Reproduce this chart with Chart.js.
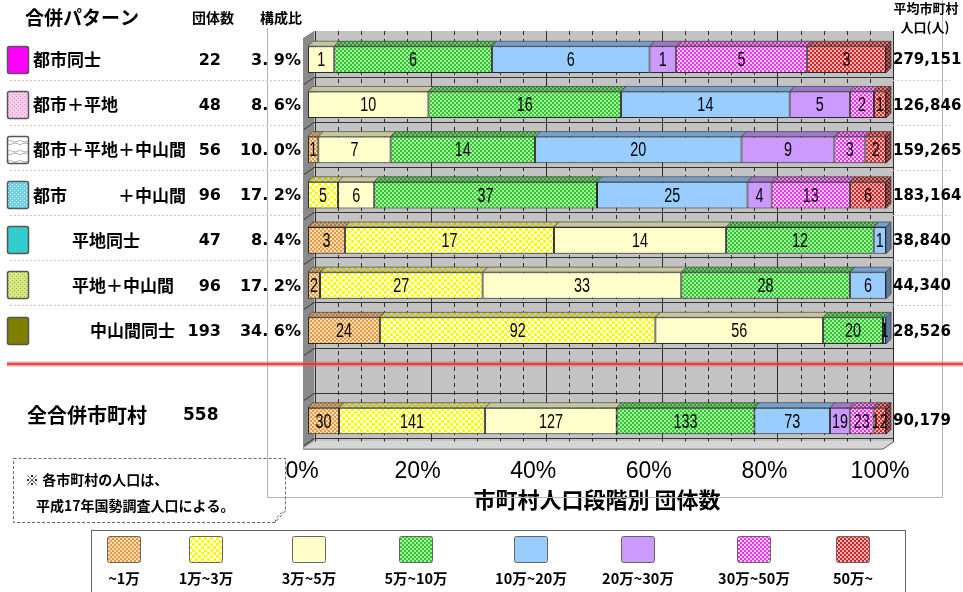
<!DOCTYPE html>
<html>
<head>
<meta charset="utf-8">
<script src="https://cdn.jsdelivr.net/npm/chart.js@4.4.0/dist/chart.umd.min.js"></script>
<style>
  html, body { margin: 0; padding: 0; background: #fff; }
  #wrap { position: relative; width: 963px; height: 592px; }
</style>
</head>
<body>
<div id="wrap"><canvas id="chart" width="963" height="592"></canvas></div>
<script>
// 合併パターン別 市町村人口段階別 団体数

const FONT_JP = '"Noto Sans CJK JP", sans-serif';
const FONT_NUM = '"DejaVu Sans", sans-serif';
const FONT_TICK = '"Liberation Sans", Arial, sans-serif';

// 左側の表
const rowNames   = ['都市同士','都市＋平地','都市＋平地＋中山間','都市　　　＋中山間','平地同士','平地＋中山間','中山間同士'];
const rowCounts  = ['22','48','56','96','47','96','193'];
const rowShares  = ['3. 9%','8. 6%','10. 0%','17. 2%','8. 4%','17. 2%','34. 6%'];
const rowAvgPop  = ['279,151','126,846','159,265','183,164','38,840','44,340','28,526'];
const totalName  = '全合併市町村';
const totalCount = '558';
const totalAvgPop = '90,179';

// 人口段階 (凡例)
const classNames = ['~1万','1万~3万','3万~5万','5万~10万','10万~20万','20万~30万','30万~50万','50万~'];

// 団体数: 7パターン + 全合併市町村
const under1    = [0, 0, 1, 0, 3, 2, 24, 30];
const from1to3  = [0, 0, 0, 5, 17, 27, 92, 141];
const from3to5  = [1, 10, 7, 6, 14, 33, 56, 127];
const from5to10 = [6, 16, 14, 37, 12, 28, 20, 133];
const from10to20 = [6, 14, 20, 25, 1, 6, 1, 73];
const from20to30 = [1, 5, 9, 4, 0, 0, 0, 19];
const from30to50 = [5, 2, 3, 13, 0, 0, 0, 23];
const over50    = [3, 1, 2, 6, 0, 0, 0, 12];

const xTicks = [0, 20, 40, 60, 80, 100];

const seriesList = [under1, from1to3, from3to5, from5to10, from10to20, from20to30, from30to50, over50];

// ---- 模様 ----
function checker(a, b, s) {
  const c = document.createElement('canvas');
  c.width = c.height = s * 2;
  const g = c.getContext('2d');
  g.fillStyle = a; g.fillRect(0, 0, s * 2, s * 2);
  g.fillStyle = b; g.fillRect(0, 0, s, s); g.fillRect(s, s, s, s);
  return g.createPattern(c, 'repeat');
}
function dots(bg, fg) {
  const c = document.createElement('canvas');
  c.width = c.height = 4;
  const g = c.getContext('2d');
  g.fillStyle = bg; g.fillRect(0, 0, 4, 4);
  g.fillStyle = fg; g.fillRect(0, 0, 1, 1); g.fillRect(2, 2, 1, 1);
  return g.createPattern(c, 'repeat');
}
function waves() {
  const c = document.createElement('canvas');
  c.width = 10; c.height = 10;
  const g = c.getContext('2d');
  g.fillStyle = '#fff'; g.fillRect(0, 0, 10, 10);
  g.strokeStyle = '#aaa'; g.lineWidth = 1;
  g.beginPath(); g.moveTo(0, 0); g.quadraticCurveTo(5, 4, 10, 0);
  g.moveTo(0, 5); g.quadraticCurveTo(5, 1, 10, 5); g.stroke();
  return g.createPattern(c, 'repeat');
}

const classFills = [
  checker('#E39A48', '#FBDDAE', 2),
  checker('#FFFF00', '#FFFFFF', 3),
  '#FFFFCC',
  checker('#2FC62F', '#A6F2A0', 2),
  '#99CCFF',
  '#CC99FF',
  checker('#F030F0', '#FFD0FF', 2),
  checker('#CC2A2A', '#FFB0B0', 2)
];
const rowSwatches = [
  '#FF00FF',
  dots('#F6CDEB', '#D98CC8'),
  waves(),
  dots('#6FCFE6', '#E8FAFF'),
  '#33CCCC',
  dots('#D5E884', '#9FBA3A'),
  '#808000'
];

// 行ごとの合計 → 100% 積み上げ
const rowTotals = under1.map((_, r) => seriesList.reduce((s, arr) => s + arr[r], 0));
const chartLabels = [...rowNames, '', totalName];

function withGap(arr) {
  const out = arr.slice();
  out.splice(7, 0, null);
  return out;
}

const datasets = seriesList.map((arr, k) => ({
  label: classNames[k],
  data: withGap(arr.map((v, r) => v ? v / rowTotals[r] * 100 : null)),
  counts: withGap(arr),
  backgroundColor: classFills[k],
  borderColor: '#2a2a2a',
  borderWidth: 1,
  borderSkipped: false,
  barPercentage: 0.59,
  categoryPercentage: 1
}));

const D = 5; // 奥行き

// 縦長の数字 (横方向を詰める)
function narrowText(ctx, text, x, y, sx) {
  ctx.save();
  ctx.translate(x, y);
  ctx.scale(sx, 1);
  ctx.fillText(text, 0, 0);
  ctx.restore();
}

const scene = {
  id: 'scene',
  beforeDatasetsDraw(chart) {
    const { ctx, chartArea: { left: L, right: R, top: T, bottom: B }, scales: { x, y } } = chart;
    ctx.save();
    // 枠
    ctx.strokeStyle = '#b4b4b4'; ctx.lineWidth = 1;
    ctx.beginPath();
    ctx.moveTo(267.5, 28); ctx.lineTo(267.5, 497.5); ctx.lineTo(942.5, 497.5); ctx.lineTo(942.5, 0);
    ctx.stroke();
    // 奥の壁
    ctx.fillStyle = '#c3c3c3';
    ctx.fillRect(L + 6, T - 6, R + 2 - L, B - T + 4);
    // 左の壁
    ctx.fillStyle = '#8a8a8a';
    ctx.beginPath();
    ctx.moveTo(L - 5, T + 1); ctx.lineTo(L + 6, T - 6); ctx.lineTo(L + 6, B - 2); ctx.lineTo(L - 5, B + 5);
    ctx.closePath(); ctx.fill();
    // 床
    ctx.fillStyle = '#d6d6d6';
    ctx.beginPath();
    ctx.moveTo(L - 5, B + 5); ctx.lineTo(L + 6, B - 2); ctx.lineTo(R + 8, B - 2); ctx.lineTo(R - 3, B + 5);
    ctx.closePath(); ctx.fill();
    ctx.strokeStyle = '#555';
    ctx.beginPath(); ctx.moveTo(L - 5, B + 5.5); ctx.lineTo(R - 3, B + 5.5); ctx.lineTo(R + 8, B - 2); ctx.stroke();
    // 縦の目盛線
    for (let v = 0; v <= 100; v += 4) {
      const px = Math.round(x.getPixelForValue(v) + 7) + 0.5;
      ctx.strokeStyle = '#2b2b2b';
      ctx.setLineDash(v % 20 === 0 ? [] : [4, 4]);
      ctx.beginPath(); ctx.moveTo(px, T - 6); ctx.lineTo(px, B - 2); ctx.stroke();
    }
    ctx.setLineDash([]);
    // 横の線
    ctx.strokeStyle = '#333';
    for (let i = 0; i < chartLabels.length; i++) {
      const yb = Math.round(y.getPixelForValue(i) + 17) + 0.5;
      if (yb > B - 2) continue;
      ctx.beginPath(); ctx.moveTo(L + 6, yb); ctx.lineTo(R + 8, yb); ctx.stroke();
      ctx.beginPath(); ctx.moveTo(L - 4, yb + 7); ctx.lineTo(L + 6, yb); ctx.stroke();
    }
    ctx.restore();
  },
  afterDatasetsDraw(chart) {
    const { ctx } = chart;
    const dsets = chart.data.datasets;
    ctx.save();
    const lastIdx = chartLabels.map((_, i) => {
      let last = -1;
      dsets.forEach((ds, di) => { if (ds.data[i] != null) last = di; });
      return last;
    });
    dsets.forEach((ds, di) => {
      chart.getDatasetMeta(di).data.forEach((bar, i) => {
        if (ds.data[i] == null) return;
        const { x: x2, y: yc, base: x1, height: h } = bar.getProps(['x', 'y', 'base', 'height'], true);
        const top = yc - h / 2, bot = yc + h / 2;
        // 上面
        ctx.beginPath();
        ctx.moveTo(x1, top); ctx.lineTo(x1 + D, top - D); ctx.lineTo(x2 + D, top - D); ctx.lineTo(x2, top);
        ctx.closePath();
        ctx.fillStyle = ds.backgroundColor; ctx.fill();
        ctx.fillStyle = 'rgba(0,0,0,0.22)'; ctx.fill();
        ctx.strokeStyle = 'rgba(40,40,40,0.7)'; ctx.lineWidth = 0.8; ctx.stroke();
        // 右側面
        if (lastIdx[i] === di) {
          ctx.beginPath();
          ctx.moveTo(x2, top); ctx.lineTo(x2 + D, top - D); ctx.lineTo(x2 + D, bot - D); ctx.lineTo(x2, bot);
          ctx.closePath();
          ctx.fillStyle = ds.backgroundColor; ctx.fill();
          ctx.fillStyle = 'rgba(0,0,0,0.4)'; ctx.fill();
          ctx.stroke();
        }
      });
    });
    // 団体数ラベル
    ctx.font = `20px ${FONT_TICK}`;
    ctx.textAlign = 'center'; ctx.textBaseline = 'middle'; ctx.fillStyle = '#000';
    dsets.forEach((ds, di) => {
      chart.getDatasetMeta(di).data.forEach((bar, i) => {
        const n = ds.counts[i];
        if (!n) return;
        const { x: x2, y: yc, base: x1 } = bar.getProps(['x', 'y', 'base'], true);
        narrowText(ctx, String(n), (x1 + x2) / 2, yc + 1, 0.72);
      });
    });
    ctx.restore();
  },
  afterDraw(chart) {
    const { ctx, scales: { y } } = chart;
    ctx.save();
    ctx.fillStyle = '#000';
    ctx.textBaseline = 'middle';

    // 見出し
    ctx.textAlign = 'left';
    ctx.font = `bold 19px ${FONT_JP}`;
    ctx.fillText('合併パターン', 25, 18);
    ctx.font = `bold 14px ${FONT_JP}`;
    ctx.fillText('団体数', 192, 18);
    ctx.textAlign = 'right';
    ctx.fillText('構成比', 302, 18);
    ctx.textAlign = 'center';
    ctx.font = `bold 13px ${FONT_JP}`;
    ctx.fillText('平均市町村', 926, 8);
    ctx.fillText('人口(人)', 925, 27);

    // 区切り線 (ピンク)
    ctx.strokeStyle = '#f2b9b9'; ctx.lineWidth = 1; ctx.setLineDash([2, 2]);
    for (let i = 0; i < 6; i++) {
      const ys = Math.round(y.getPixelForValue(i) + 20) + 0.5;
      ctx.beginPath(); ctx.moveTo(10, ys); ctx.lineTo(300, ys); ctx.stroke();
      ctx.beginPath(); ctx.moveTo(893, ys); ctx.lineTo(950, ys); ctx.stroke();
    }
    ctx.setLineDash([]);

    const labelX = [33, 33, 33, 33, 72, 72, 90];
    rowNames.forEach((name, i) => {
      const yc = y.getPixelForValue(i);
      // 色見本
      ctx.beginPath();
      ctx.roundRect(7.5, Math.round(yc - 14) + 0.5, 21, 27, 2);
      ctx.fillStyle = rowSwatches[i]; ctx.fill();
      ctx.strokeStyle = '#555'; ctx.lineWidth = 1.5; ctx.stroke();
      ctx.fillStyle = '#000';
      ctx.textAlign = 'left';
      ctx.font = `bold 17px ${FONT_JP}`;
      ctx.fillText(name, labelX[i], yc);
      ctx.textAlign = 'right';
      ctx.font = `bold 16px ${FONT_NUM}`;
      ctx.fillText(rowCounts[i], 221, yc + 1);
      ctx.fillText(rowShares[i], 301, yc + 1);
      ctx.textAlign = 'left';
      ctx.font = `bold 15px ${FONT_NUM}`;
      ctx.fillText(rowAvgPop[i], 893, yc + 1);
    });

    // 全合併市町村
    const yt = y.getPixelForValue(8);
    ctx.textAlign = 'left';
    ctx.font = `bold 20px ${FONT_JP}`;
    ctx.fillText(totalName, 27, yt - 6);
    ctx.font = `bold 17px ${FONT_NUM}`;
    ctx.fillText(totalCount, 183, yt - 5);
    ctx.font = `bold 15px ${FONT_NUM}`;
    ctx.fillText(totalAvgPop, 893, yt);

    // 赤線
    ctx.strokeStyle = 'rgba(236,90,90,0.55)'; ctx.lineWidth = 5;
    ctx.beginPath(); ctx.moveTo(7, 364); ctx.lineTo(963, 364); ctx.stroke();
    ctx.strokeStyle = '#e02c2c'; ctx.lineWidth = 1.5;
    ctx.beginPath(); ctx.moveTo(7, 364); ctx.lineTo(963, 364); ctx.stroke();

    // 注記
    ctx.strokeStyle = '#666'; ctx.lineWidth = 1; ctx.setLineDash([3, 2]);
    ctx.beginPath();
    ctx.moveTo(13.5, 458.5); ctx.lineTo(285.5, 458.5); ctx.lineTo(285.5, 511); ctx.lineTo(275, 522.5);
    ctx.lineTo(13.5, 522.5); ctx.closePath(); ctx.stroke();
    ctx.beginPath(); ctx.moveTo(275, 522.5); ctx.quadraticCurveTo(277, 514, 285.5, 511); ctx.stroke();
    ctx.setLineDash([]);
    ctx.font = `bold 14px ${FONT_JP}`;
    ctx.fillText('※ 各市町村の人口は、', 25, 480);
    ctx.fillText('平成17年国勢調査人口による。', 36, 506);

    // 凡例
    ctx.strokeStyle = '#666'; ctx.lineWidth = 1;
    ctx.strokeRect(91.5, 530.5, 814, 70);
    const legendX = [124, 206, 309, 416, 531, 638, 754, 853];
    ctx.textAlign = 'center';
    ctx.font = `bold 14.5px ${FONT_JP}`;
    chart.data.datasets.forEach((ds, k) => {
      const cx = legendX[k];
      ctx.beginPath();
      ctx.roundRect(cx - 16.5, 536.5, 33, 26, 2);
      ctx.fillStyle = ds.backgroundColor; ctx.fill();
      ctx.strokeStyle = '#666'; ctx.stroke();
      ctx.fillStyle = '#000';
      ctx.fillText(ds.label, cx, 578);
    });
    ctx.restore();
  }
};

new Chart(document.getElementById('chart'), {
  type: 'bar',
  data: { labels: chartLabels, datasets },
  options: {
    indexAxis: 'y',
    responsive: false,
    animation: false,
    layout: { padding: { left: 308, right: 77, top: 37, bottom: 79.4 } },
    scales: {
      x: {
        stacked: true,
        min: 0,
        max: 100,
        afterBuildTicks: axis => { axis.ticks = xTicks.map(v => ({ value: v })); },
        ticks: {
          callback: v => v + '%',
          color: '#000',
          font: { size: 23, family: FONT_TICK },
          padding: 14.5,
          labelOffset: -6,
          maxRotation: 0
        },
        grid: { display: false, drawTicks: false },
        border: { display: false },
        title: {
          display: true,
          text: '市町村人口段階別 団体数',
          color: '#000',
          font: { size: 22, weight: 'bold', family: FONT_JP },
          padding: { top: -14, bottom: 0 }
        }
      },
      y: { stacked: true, display: false }
    },
    plugins: {
      legend: { display: false },
      tooltip: { enabled: false }
    }
  },
  plugins: [scene]
});
</script>
</body>
</html>
